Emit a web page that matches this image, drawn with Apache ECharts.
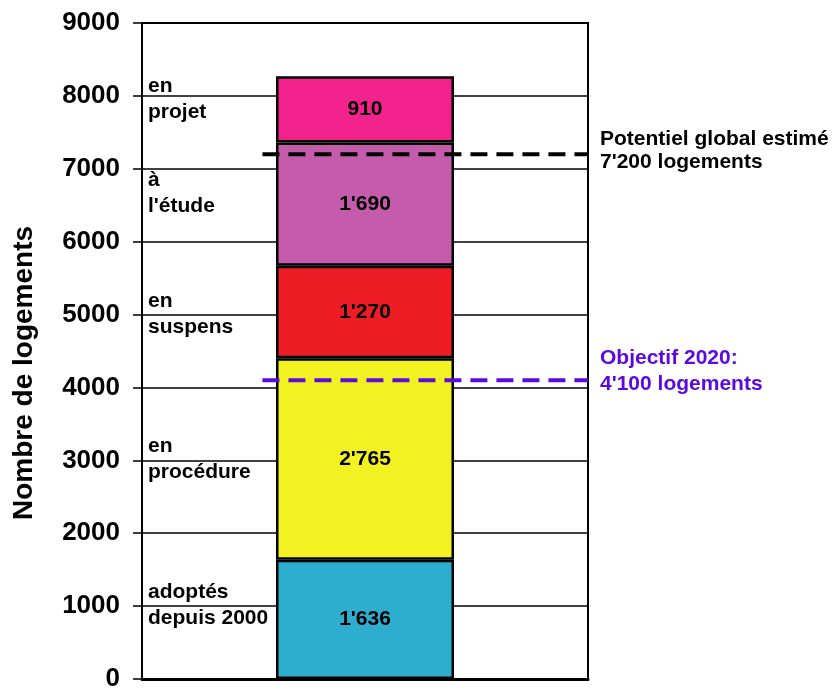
<!DOCTYPE html>
<html>
<head>
<meta charset="utf-8">
<style>
  html, body { margin: 0; padding: 0; background: #fff; }
  #chart { width: 838px; height: 692px; }
</style>
<script src="https://cdn.jsdelivr.net/npm/echarts@6/dist/echarts.min.js"></script>
</head>
<body>
<div id="chart"></div>
<script>
// Stacked housing counts, bottom to top
const stages = ['adoptés\ndepuis 2000', 'en\nprocédure', 'en\nsuspens', 'à\nl\'étude', 'en\nprojet'];
const counts = [1636, 2765, 1270, 1690, 910];
const countLabels = ['1\'636', '2\'765', '1\'270', '1\'690', '910'];
const stageColors = ['#2EAECE', '#F2F222', '#EE1C25', '#C45CAB', '#F2228C'];

// Reference levels
const potentiel = 7200;
const objectif = 4100;
const potentielText = 'Potentiel global estimé\n7\'200 logements';
const objectifText = 'Objectif 2020:\n4\'100 logements';

const yTicks = { min: 0, max: 9000, interval: 1000 };

const FONT = '"Liberation Sans", Arial, sans-serif';

// Mid-point of each stacked segment, used to place the stage names
const mids = [];
let acc = 0;
counts.forEach(v => { mids.push(acc + v / 2); acc += v; });

const barSeries = counts.map((v, i) => ({
  type: 'bar',
  name: stages[i],
  stack: 'total',
  xAxisIndex: 0,
  barWidth: 178,
  data: [v],
  itemStyle: { color: stageColors[i], borderColor: '#000', borderWidth: 2.5 },
  label: {
    show: true,
    position: 'inside',
    formatter: () => countLabels[i],
    color: '#000',
    fontFamily: FONT,
    fontWeight: 'bold',
    fontSize: 21
  }
}));

// Small vertical nudges (px) for the stage names beside the bar
const nameNudge = [-14, 0, 2, -11, -10];

const nameSeries = {
  type: 'scatter',
  xAxisIndex: 1,
  symbolSize: 0,
  silent: true,
  itemStyle: { opacity: 1 },
  data: mids.map((m, i) => ({
    value: [0, m],
    name: stages[i],
    label: { offset: [0, nameNudge[i]] }
  })),
  label: {
    show: true,
    position: 'right',
    distance: 6,
    align: 'left',
    formatter: p => p.name,
    color: '#000',
    opacity: 1,
    fontFamily: FONT,
    fontWeight: 'bold',
    fontSize: 21,
    lineHeight: 26
  }
};

function refLine(value, color, text, lineHeight, dy) {
  return {
    type: 'line',
    xAxisIndex: 1,
    symbol: 'none',
    silent: true,
    z: 5,
    data: [[0.27, value], [1, value]],
    lineStyle: { color: color, width: 4, type: [17, 9] },
    endLabel: {
      show: true,
      formatter: () => text,
      distance: 12,
      offset: [0, dy],
      color: color,
      fontFamily: FONT,
      fontWeight: 'bold',
      fontSize: 21,
      lineHeight: lineHeight
    }
  };
}

const chart = echarts.init(document.getElementById('chart'), null, { renderer: 'canvas' });
chart.setOption({
  animation: false,
  backgroundColor: '#fff',
  grid: {
    left: 142, right: 250, top: 23, bottom: 12,
    show: true, borderColor: '#000', borderWidth: 2, backgroundColor: 'transparent'
  },
  xAxis: [
    {
      type: 'category',
      data: [''],
      axisLine: { show: true, lineStyle: { color: '#000', width: 3 } },
      axisTick: { show: false },
      axisLabel: { show: false }
    },
    { type: 'value', min: 0, max: 1, show: false }
  ],
  yAxis: {
    type: 'value',
    min: yTicks.min, max: yTicks.max, interval: yTicks.interval,
    name: 'Nombre de logements',
    nameLocation: 'middle',
    nameGap: 104,
    nameTextStyle: {
      color: '#000', fontFamily: FONT, fontWeight: 'bold', fontSize: 28,
      padding: [0, 44, 0, 0]
    },
    axisLine: { show: true, lineStyle: { color: '#000', width: 2 } },
    axisTick: { show: true, length: 9, lineStyle: { color: '#000', width: 1.5 } },
    axisLabel: {
      color: '#000', fontFamily: FONT, fontWeight: 'bold', fontSize: 26, margin: 22,
      formatter: v => String(v)
    },
    splitLine: { show: true, lineStyle: { color: '#000', width: 1.5 } }
  },
  series: [
    ...barSeries,
    nameSeries,
    refLine(potentiel, '#000000', potentielText, 23, -3),
    refLine(objectif, '#5B0AE0', objectifText, 26, -9)
  ]
});
</script>
</body>
</html>
